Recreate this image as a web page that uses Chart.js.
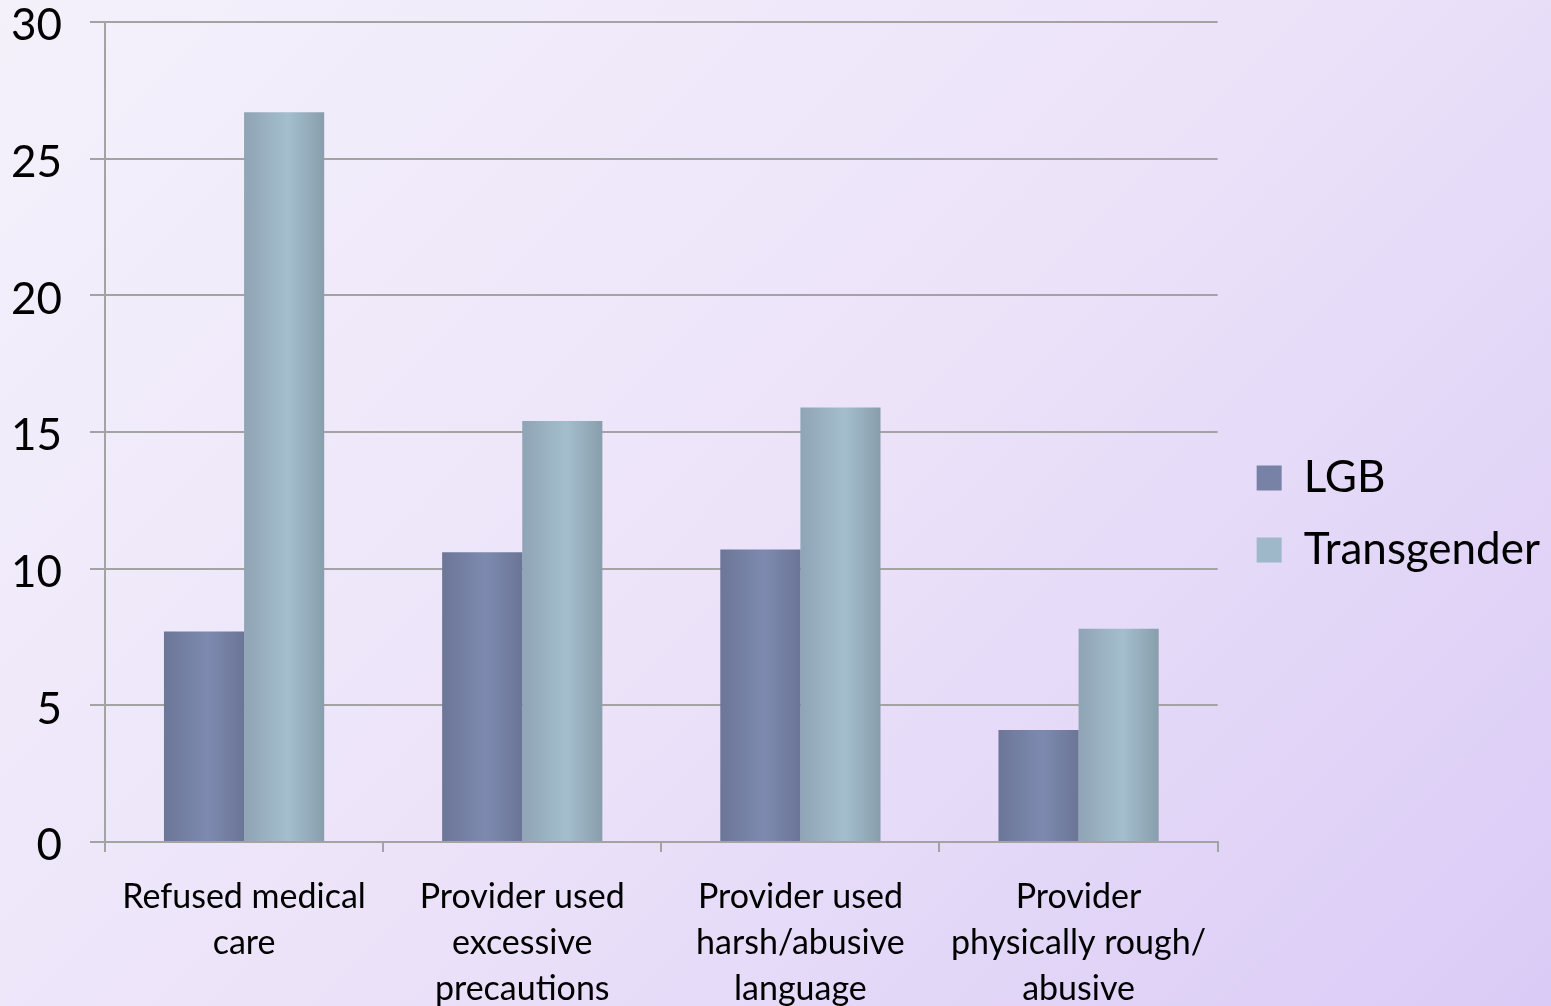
<!DOCTYPE html>
<html>
<head>
<meta charset="utf-8">
<script src="https://cdn.jsdelivr.net/npm/chart.js@4"></script>
<style>
  html, body { margin: 0; padding: 0; }
  body {
    width: 1551px; height: 1006px; overflow: hidden;
    background: linear-gradient(135deg, #f4f1fb 0%, #ece3f9 50%, #dacbf6 100%);
  }
  #wrap { position: relative; width: 1551px; height: 1006px; }
</style>
</head>
<body>
<div id="wrap"><canvas id="chart"></canvas></div>
<script>
const categories = [
    ['Refused medical', 'care'],
    ['Provider used', 'excessive', 'precautions'],
    ['Provider used', 'harsh/abusive', 'language'],
    ['Provider', 'physically rough/', 'abusive']
];
const lgbValues = [7.7, 10.6, 10.7, 4.1];
const transValues = [26.7, 15.4, 15.9, 7.8];
const yTicks = [0, 5, 10, 15, 20, 25, 30];

const seriesColors = ['#7782a6', '#9fb8c9'];

// shade each bar like a soft cylinder: darker edges, lighter middle
const barShading = {
    id: 'barShading',
    beforeDatasetsDraw(chart) {
        const ctx = chart.ctx;
        const stops = [
            ['#6c7697', '#7d8aaf', '#6b7596'],
            ['#8fa4b4', '#a4bece', '#889eac']
        ];
        chart.data.datasets.forEach((ds, di) => {
            chart.getDatasetMeta(di).data.forEach(bar => {
                const left = bar.x - bar.width / 2;
                const g = ctx.createLinearGradient(left, 0, left + bar.width, 0);
                g.addColorStop(0, stops[di][0]);
                g.addColorStop(0.55, stops[di][1]);
                g.addColorStop(1, stops[di][2]);
                bar.options = Object.assign({}, bar.options, { backgroundColor: g });
            });
        });
    }
};

// nudge the legend a little to the right without touching the plot area
const legendNudge = {
    id: 'legendNudge',
    afterLayout(chart) {
        chart.legend.left += 11;
        chart.legend.right += 11;
    }
};

new Chart(document.getElementById('chart'), {
    type: 'bar',
    data: {
        labels: categories,
        datasets: [{
            label: 'LGB',
            data: lgbValues,
            backgroundColor: () => seriesColors[0],
            borderWidth: 0
        }, {
            label: 'Transgender',
            data: transValues,
            backgroundColor: () => seriesColors[1],
            borderWidth: 0
        }]
    },
    options: {
        responsive: true,
        maintainAspectRatio: false,
        animation: false,
        categoryPercentage: 0.576,
        barPercentage: 1,
        layout: { padding: { left: 0, right: 12, top: 22, bottom: 0 } },
        plugins: {
            legend: {
                position: 'right',
                labels: {
                    color: '#000',
                    boxWidth: 25,
                    boxHeight: 25,
                    padding: 28,
                    font: { family: 'Lato', size: 44 }
                }
            },
            tooltip: { enabled: false }
        },
        scales: {
            y: {
                min: 0,
                max: 30,
                afterBuildTicks(scale) {
                    scale.ticks = yTicks.map(v => ({ value: v }));
                },
                afterFit(scale) {
                    scale.width = 105;
                    scale.paddingTop = 0;
                    scale.paddingBottom = 0;
                },
                border: { color: '#a3a3a3', width: 2 },
                grid: { color: '#a3a3a3', lineWidth: 2, tickLength: 15 },
                ticks: {
                    color: '#000',
                    padding: 28,
                    labelOffset: 4,
                    font: { family: 'Lato', size: 44 }
                }
            },
            x: {
                afterFit(scale) { scale.height = 164; },
                border: { color: '#a3a3a3', width: 2 },
                grid: { color: '#a3a3a3', lineWidth: 2, offset: true, drawOnChartArea: false, tickLength: 10 },
                ticks: {
                    color: '#000',
                    padding: 22,
                    maxRotation: 0,
                    font: { family: 'Lato', size: 34, lineHeight: 1.35 }
                }
            }
        }
    },
    plugins: [barShading, legendNudge]
});
</script>
</body>
</html>
